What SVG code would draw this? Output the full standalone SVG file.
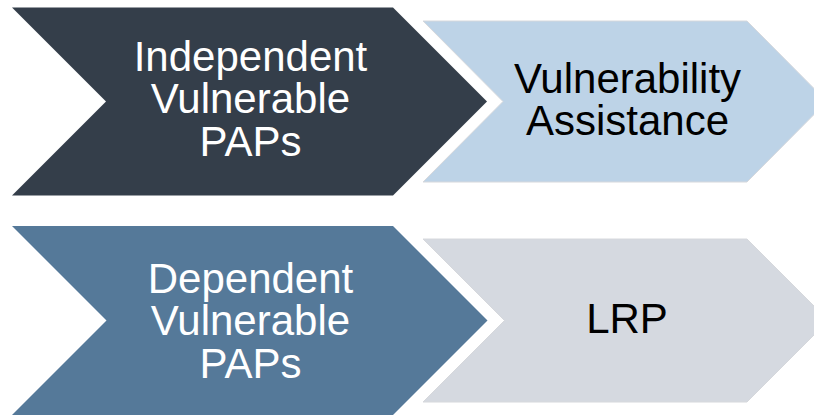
<svg xmlns="http://www.w3.org/2000/svg" width="814" height="416" viewBox="0 0 814 416">
  <style>
    .label { font-family: "Liberation Sans", Arial, sans-serif; font-size: 42px; text-anchor: middle; }
    .light-text { fill: #ffffff; }
    .dark-text { fill: #000000; }
    .soft-edge { stroke: #d6d8dc; stroke-width: 1; }
  </style>
  <rect width="814" height="416" fill="#ffffff"/>

  <g id="independent-vulnerable-paps">
    <polygon points="12,7.5 393,7.5 487,101.5 393,195.5 12,195.5 106,101.5" fill="#343e4a"/>
    <text class="label light-text" x="250.5" y="70.5">Independent</text>
    <text class="label light-text" x="250.5" y="113">Vulnerable</text>
    <text class="label light-text" x="250.5" y="155.5">PAPs</text>
  </g>

  <g id="vulnerability-assistance">
    <polygon class="soft-edge" points="423,21 747,21 827,101.5 747,182 423,182 503,101.5" fill="#bdd3e7"/>
    <text class="label dark-text" x="627.5" y="92.5">Vulnerability</text>
    <text class="label dark-text" x="627.5" y="135">Assistance</text>
  </g>

  <g id="dependent-vulnerable-paps">
    <polygon points="12,226 393,226 487.5,320.5 393,415 12,415 106.5,320.5" fill="#557999"/>
    <text class="label light-text" x="250.5" y="292.5">Dependent</text>
    <text class="label light-text" x="250.5" y="335">Vulnerable</text>
    <text class="label light-text" x="250.5" y="378">PAPs</text>
  </g>

  <g id="lrp">
    <polygon class="soft-edge" points="423,239 747,239 828.5,320.5 747,402 423,402 504.5,320.5" fill="#d5d9e0"/>
    <text class="label dark-text" x="627" y="333">LRP</text>
  </g>
</svg>
